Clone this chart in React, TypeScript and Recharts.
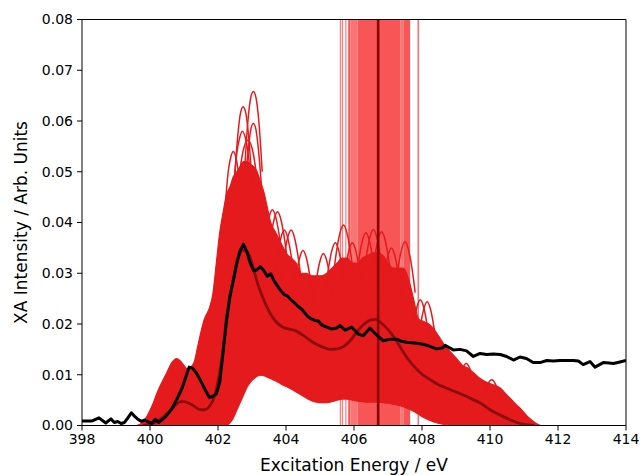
import { Area, ComposedChart, Label, Line, ReferenceArea, ReferenceLine, XAxis, YAxis } from 'recharts'

const FONT = '"DejaVu Sans", Verdana, sans-serif'

// envelope of the bulk of the calculated spectra (lowest and highest curve at each energy)
const envEnergy = [
  398.0, 399.6, 399.8, 399.9, 400.0, 400.1, 400.2, 400.35, 400.5, 400.65, 400.78, 400.9, 401.0, 401.1, 401.2, 401.3,
  401.4, 401.5, 401.6, 401.75, 401.85, 401.95, 402.05, 402.15, 402.25, 402.35, 402.45, 402.55, 402.65, 402.75, 402.85,
  402.95, 403.05, 403.15, 403.25, 403.35, 403.45, 403.55, 403.7, 403.85, 404.0, 404.15, 404.3, 404.45, 404.6, 404.75,
  404.9, 405.05, 405.2, 405.35, 405.5, 405.65, 405.8, 405.95, 406.1, 406.25, 406.4, 406.55, 406.7, 406.85, 407.0,
  407.15, 407.3, 407.45, 407.6, 407.75, 407.9, 408.05, 408.2, 408.35, 408.5, 408.65, 408.8, 409.0, 409.2, 409.35,
  409.5, 409.7, 409.9, 410.1, 410.3, 410.5, 410.7, 410.9, 411.1, 411.3, 411.5, 414.0,
]
const envHigh = [
  0, 0, 0.0008, 0.0017, 0.003, 0.0045, 0.0063, 0.0085, 0.0105, 0.0125, 0.0132, 0.0127, 0.0118, 0.0112, 0.0115, 0.0125,
  0.0155, 0.0185, 0.021, 0.0232, 0.026, 0.032, 0.038, 0.042, 0.0455, 0.047, 0.049, 0.05, 0.051, 0.052, 0.052,
  0.0515, 0.051, 0.05, 0.048, 0.046, 0.043, 0.04, 0.038, 0.036, 0.034, 0.033, 0.032, 0.03, 0.03, 0.0295,
  0.0295, 0.0295, 0.03, 0.031, 0.032, 0.033, 0.033, 0.032, 0.032, 0.033, 0.0335, 0.034, 0.034, 0.0335, 0.032,
  0.031, 0.031, 0.031, 0.029, 0.025, 0.021, 0.0205, 0.02, 0.019, 0.0175, 0.016, 0.0148, 0.0133, 0.0118, 0.0113,
  0.0105, 0.0093, 0.0085, 0.008, 0.0074, 0.006, 0.0046, 0.0033, 0.0018, 0.0007, 0, 0,
]
const envLow = [
  0, 0, 0, 0, 0, 0, 0, 0, 0, 0, 0, 0, 0, 0, 0, 0,
  0, 0, 0, 0, 0, 0, 0, 0, 0, 0.0005, 0.0015, 0.003, 0.0045, 0.006, 0.0075,
  0.0085, 0.0092, 0.0097, 0.0099, 0.0098, 0.0095, 0.0092, 0.0088, 0.0082, 0.0077, 0.0072, 0.0066, 0.006, 0.0054, 0.0049,
  0.0046, 0.0045, 0.0045, 0.0047, 0.005, 0.0052, 0.0052, 0.005, 0.0048, 0.0047, 0.0046, 0.0046, 0.0046, 0.0045, 0.0044,
  0.0042, 0.004, 0.0037, 0.0033, 0.0028, 0.0022, 0.0016, 0.0011, 0.0007, 0.0004, 0.0002, 0.0001, 0, 0, 0,
  0, 0, 0, 0, 0, 0, 0, 0, 0, 0, 0, 0,
]

// single spectra whose peaks stand out above the rest
const archEnergies = [
  [402.2, 402.3, 402.38, 402.45, 402.52, 402.6, 402.7],
  [402.48, 402.58, 402.66, 402.74, 402.82, 402.9, 403.0],
  [402.46, 402.56, 402.64, 402.72, 402.8, 402.88, 402.98],
  [402.78, 402.88, 402.96, 403.04, 403.12, 403.2, 403.3],
  [402.8, 402.9, 402.97, 403.04, 403.11, 403.18, 403.28],
  [402.62, 402.72, 402.8, 402.88, 402.96, 403.04, 403.14],
  [403.3, 403.4, 403.5, 403.6, 403.7, 403.8, 403.9],
  [403.45, 403.55, 403.65, 403.75, 403.85, 403.95, 404.05],
  [403.65, 403.75, 403.85, 403.95, 404.05, 404.15, 404.25],
  [403.85, 403.95, 404.05, 404.15, 404.25, 404.35, 404.45],
  [404.2, 404.3, 404.4, 404.5, 404.6, 404.7, 404.8],
  [404.8, 404.9, 405.0, 405.1, 405.2, 405.3, 405.4],
  [405.15, 405.25, 405.35, 405.45, 405.55, 405.65, 405.75],
  [405.39, 405.49, 405.59, 405.69, 405.79, 405.89, 405.99],
  [405.65, 405.75, 405.85, 405.95, 406.05, 406.15, 406.25],
  [406.05, 406.15, 406.25, 406.35, 406.45, 406.55, 406.65],
  [406.27, 406.37, 406.47, 406.57, 406.67, 406.77, 406.87],
  [406.51, 406.61, 406.71, 406.81, 406.91, 407.01, 407.11],
  [406.8, 406.9, 407.0, 407.1, 407.2, 407.3, 407.4],
  [407.2, 407.3, 407.4, 407.5, 407.6, 407.7, 407.8],
  [407.65, 407.75, 407.85, 407.95, 408.05, 408.15, 408.25],
  [407.85, 407.95, 408.05, 408.15, 408.25, 408.35, 408.45],
  [409.0, 409.1, 409.2, 409.3, 409.4, 409.5, 409.6],
  [409.75, 409.85, 409.95, 410.05, 410.15, 410.25, 410.35],
]
const archIntensities = [
  [0.042, 0.05, 0.053, 0.054, 0.053, 0.05, 0.045],
  [0.048, 0.057, 0.0615, 0.0628, 0.0615, 0.057, 0.048],
  [0.047, 0.054, 0.0568, 0.058, 0.0568, 0.054, 0.047],
  [0.05, 0.06, 0.0645, 0.0658, 0.0645, 0.06, 0.05],
  [0.048, 0.055, 0.0585, 0.0595, 0.0585, 0.055, 0.047],
  [0.049, 0.0535, 0.0555, 0.0562, 0.0555, 0.0535, 0.049],
  [0.0325, 0.0375, 0.041, 0.0425, 0.041, 0.0375, 0.0325],
  [0.032, 0.037, 0.0406, 0.0421, 0.0406, 0.037, 0.032],
  [0.0285, 0.0335, 0.037, 0.0385, 0.037, 0.0335, 0.0285],
  [0.0285, 0.0335, 0.037, 0.0385, 0.037, 0.0335, 0.0285],
  [0.0245, 0.0295, 0.033, 0.0345, 0.033, 0.0295, 0.0245],
  [0.024, 0.029, 0.0324, 0.0339, 0.0324, 0.029, 0.024],
  [0.026, 0.031, 0.0345, 0.036, 0.0345, 0.031, 0.026],
  [0.0295, 0.0345, 0.038, 0.0395, 0.038, 0.0345, 0.0295],
  [0.026, 0.031, 0.0345, 0.036, 0.0345, 0.031, 0.026],
  [0.028, 0.033, 0.0365, 0.038, 0.0365, 0.033, 0.028],
  [0.0286, 0.0336, 0.0371, 0.0386, 0.0371, 0.0336, 0.0286],
  [0.0282, 0.0332, 0.0367, 0.0382, 0.0367, 0.0332, 0.0282],
  [0.025, 0.03, 0.0335, 0.035, 0.0335, 0.03, 0.025],
  [0.0262, 0.0312, 0.0347, 0.0362, 0.0347, 0.0312, 0.0262],
  [0.0148, 0.0198, 0.0233, 0.0248, 0.0233, 0.0198, 0.0148],
  [0.0144, 0.0194, 0.0229, 0.0244, 0.0229, 0.0194, 0.0144],
  [0.006, 0.0092, 0.0113, 0.0122, 0.0113, 0.0092, 0.006],
  [0.004, 0.0065, 0.0083, 0.009, 0.0083, 0.0065, 0.004],
]

// mean of the calculated spectra
const avgEnergy = [
  399.8, 400.0, 400.2, 400.4, 400.6, 400.8, 400.9, 401.0, 401.15, 401.3, 401.45, 401.6, 401.75, 401.9, 402.05, 402.2,
  402.35, 402.5, 402.6, 402.72, 402.85, 403.0, 403.15, 403.3, 403.5, 403.7, 403.9, 404.1, 404.3, 404.5, 404.7, 404.9,
  405.1, 405.3, 405.5, 405.7, 405.9, 406.1, 406.3, 406.5, 406.65, 406.8, 407.0, 407.2, 407.4, 407.6, 407.8, 408.0,
  408.25, 408.5, 408.75, 409.0, 409.25, 409.5, 409.75, 410.0, 410.25, 410.5, 410.75, 411.0, 411.3,
]
const avgIntensity = [
  0, 0.0003, 0.0008, 0.0017, 0.003, 0.0043, 0.0047, 0.0047, 0.0044, 0.0038, 0.0032, 0.0031, 0.0038, 0.0058, 0.0105, 0.0175,
  0.025, 0.0305, 0.033, 0.0345, 0.0343, 0.032, 0.0283, 0.0255, 0.0225, 0.0205, 0.0194, 0.019, 0.0186, 0.0178, 0.0168, 0.016,
  0.0154, 0.015, 0.0151, 0.0156, 0.0168, 0.0186, 0.02, 0.0208, 0.0209, 0.0202, 0.0189, 0.0172, 0.015, 0.013, 0.0114, 0.0101,
  0.009, 0.008, 0.0073, 0.0066, 0.0059, 0.0051, 0.0043, 0.0031, 0.0022, 0.0014, 0.0007, 0.0002, 0,
]

// experimental spectrum
const expEnergy = [
  398.0, 398.15, 398.3, 398.4, 398.5, 398.6, 398.7, 398.85, 398.95, 399.05, 399.15, 399.25, 399.35, 399.45, 399.55, 399.65,
  399.75, 399.85, 399.95, 400.05, 400.15, 400.25, 400.35, 400.45, 400.55, 400.65, 400.75, 400.85, 400.95, 401.05, 401.15,
  401.25, 401.35, 401.45, 401.55, 401.65, 401.75, 401.85, 401.95, 402.05, 402.15, 402.25, 402.35, 402.45, 402.55, 402.65,
  402.75, 402.85, 402.95, 403.05, 403.15, 403.25, 403.35, 403.45, 403.55, 403.65, 403.75, 403.85, 403.95, 404.05, 404.15,
  404.25, 404.35, 404.45, 404.55, 404.65, 404.75, 404.85, 404.95, 405.05, 405.2, 405.35, 405.49, 405.59, 405.74, 405.93,
  406.13, 406.27, 406.47, 406.67, 406.86, 407.06, 407.26, 407.4, 407.55, 407.7, 407.84, 408.04, 408.24, 408.43, 408.6,
  408.68, 408.92, 409.12, 409.31, 409.51, 409.71, 409.9, 410.1, 410.3, 410.49, 410.69, 410.88, 411.07, 411.27, 411.47,
  411.67, 411.86, 412.06, 412.26, 412.45, 412.6, 412.74, 412.94, 413.09, 413.33, 413.5, 413.63, 413.82, 414.0,
]
const expIntensity = [
  0.0009, 0.0009, 0.0009, 0.0012, 0.0015, 0.001, 0.0005, 0.0013, 0.0006, 0.0008, 0.0004, 0.0006, 0.0015, 0.0025, 0.0018, 0.0012,
  0.0008, 0.0011, 0.0007, 0.0004, 0.0012, 0.0006, 0.0011, 0.0017, 0.0025, 0.0034, 0.0047, 0.006, 0.0075, 0.0095, 0.0115,
  0.0113, 0.0105, 0.0093, 0.008, 0.0067, 0.0055, 0.0058, 0.0062, 0.0085, 0.0145, 0.021, 0.0255, 0.0285, 0.032, 0.0345,
  0.0357, 0.0342, 0.032, 0.0305, 0.0307, 0.0313, 0.0305, 0.0294, 0.0299, 0.0285, 0.0275, 0.0265, 0.0258, 0.0255, 0.0247,
  0.0242, 0.0235, 0.023, 0.0222, 0.0214, 0.021, 0.0207, 0.0206, 0.0198, 0.0194, 0.019, 0.0192, 0.0197, 0.0188, 0.0194,
  0.018, 0.0177, 0.0192, 0.0178, 0.0167, 0.017, 0.017, 0.0166, 0.0164, 0.0163, 0.0162, 0.016, 0.0156, 0.0151, 0.0153,
  0.0158, 0.0149, 0.015, 0.0147, 0.0136, 0.0142, 0.014, 0.0141, 0.014, 0.0136, 0.0129, 0.0135, 0.0132, 0.0124, 0.0124,
  0.0128, 0.0127, 0.0128, 0.0128, 0.0128, 0.0127, 0.012, 0.0126, 0.0115, 0.0124, 0.0123, 0.0122, 0.0125, 0.0128,
]

// vertical markers: single lines and dense bands of transition energies
const markerLines = [405.6, 405.66, 405.76]
const markerBands = [
  [405.83, 405.9],
  [406.1, 407.37],
  [407.45, 407.65],
]
const faintBands = [
  [405.9, 406.1],
  [407.37, 407.45],
]
const outerMarker = 407.89
const meanMarker = 406.71

const xTicks = [398, 400, 402, 404, 406, 408, 410, 412, 414]
const yTicks = [0, 0.01, 0.02, 0.03, 0.04, 0.05, 0.06, 0.07, 0.08]

const envelopeData = envEnergy.map((e, i) => ({ e, range: [envLow[i], envHigh[i]] }))
const avgData = avgEnergy.map((e, i) => ({ e, v: avgIntensity[i] }))
const expData = expEnergy.map((e, i) => ({ e, v: expIntensity[i] }))
const archData = archEnergies.map((row, k) => row.map((e, i) => ({ e, v: archIntensities[k][i] })))

const RED = '#e41a1c'
const tickStyle = { fontFamily: FONT, fontSize: 14, fill: '#000' }

const App = () => (
  <div style={{ position: 'absolute', left: 0, top: 0 }}>
    <ComposedChart width={642} height={475} margin={{ top: 19.5, right: 16, bottom: 0, left: 0 }}>
      <XAxis
        dataKey="e"
        type="number"
        domain={[398, 414]}
        ticks={xTicks}
        allowDataOverflow
        height={49.5}
        tickSize={5}
        tickMargin={4}
        stroke="#000"
        tick={tickStyle}
      >
        <Label
          content={({ viewBox }: any) => (
            <text
              x={viewBox.x + viewBox.width / 2}
              y={viewBox.y + 39}
              textAnchor="middle"
              dominantBaseline="central"
              style={{ fontFamily: FONT, fontSize: 17, fill: '#000' }}
            >
              Excitation Energy / eV
            </text>
          )}
        />
      </XAxis>
      <YAxis
        type="number"
        domain={[0, 0.08]}
        ticks={yTicks}
        allowDataOverflow
        width={82}
        tickSize={5}
        tickMargin={4}
        stroke="#000"
        tick={tickStyle}
        tickFormatter={(v: number) => v.toFixed(2)}
      >
        <Label
          content={({ viewBox }: any) => {
            const cx = 21
            const cy = viewBox.y + viewBox.height / 2
            return (
              <text
                x={cx}
                y={cy}
                transform={`rotate(-90, ${cx}, ${cy})`}
                textAnchor="middle"
                dominantBaseline="central"
                style={{ fontFamily: FONT, fontSize: 17, fill: '#000' }}
              >
                XA Intensity / Arb. Units
              </text>
            )
          }}
        />
      </YAxis>

      {markerBands.map(([a, b]) => (
        <ReferenceArea key={`b${a}`} x1={a} x2={b} fill="#f85656" fillOpacity={1} stroke="none" zIndex={50} />
      ))}
      {faintBands.map(([a, b]) => (
        <ReferenceArea key={`f${a}`} x1={a} x2={b} fill="#fa7474" fillOpacity={1} stroke="none" zIndex={50} />
      ))}
      {markerLines.map((x) => (
        <ReferenceLine key={`l${x}`} x={x} stroke="#ff7b7b" strokeWidth={1.2} zIndex={50} />
      ))}
      <ReferenceLine x={outerMarker} stroke="#ff6e6e" strokeWidth={1.5} zIndex={50} />

      <Area
        data={envelopeData}
        dataKey="range"
        type="monotone"
        fill={RED}
        fillOpacity={1}
        stroke={RED}
        strokeWidth={1.2}
        isAnimationActive={false}
        dot={false}
        activeDot={false}
        zIndex={100}
      />
      {archData.map((d, k) => (
        <Line
          key={`a${k}`}
          data={d}
          dataKey="v"
          type="monotone"
          stroke={RED}
          strokeWidth={1.5}
          dot={false}
          activeDot={false}
          isAnimationActive={false}
          zIndex={150}
        />
      ))}

      <ReferenceLine x={meanMarker} stroke="#8b0000" strokeWidth={2.6} zIndex={300} />

      <Line
        data={avgData}
        dataKey="v"
        type="monotone"
        stroke="#7d0a0a"
        strokeOpacity={0.85}
        strokeWidth={2.8}
        dot={false}
        activeDot={false}
        isAnimationActive={false}
        zIndex={400}
      />
      <Line
        data={expData}
        dataKey="v"
        type="linear"
        stroke="#000"
        strokeWidth={3}
        strokeLinejoin="round"
        dot={false}
        activeDot={false}
        isAnimationActive={false}
        zIndex={450}
      />

      <ReferenceLine y={0.08} stroke="#000" strokeWidth={1} zIndex={500} />
      <ReferenceLine x={414} stroke="#000" strokeWidth={1} zIndex={500} />
    </ComposedChart>
  </div>
)

export default App
